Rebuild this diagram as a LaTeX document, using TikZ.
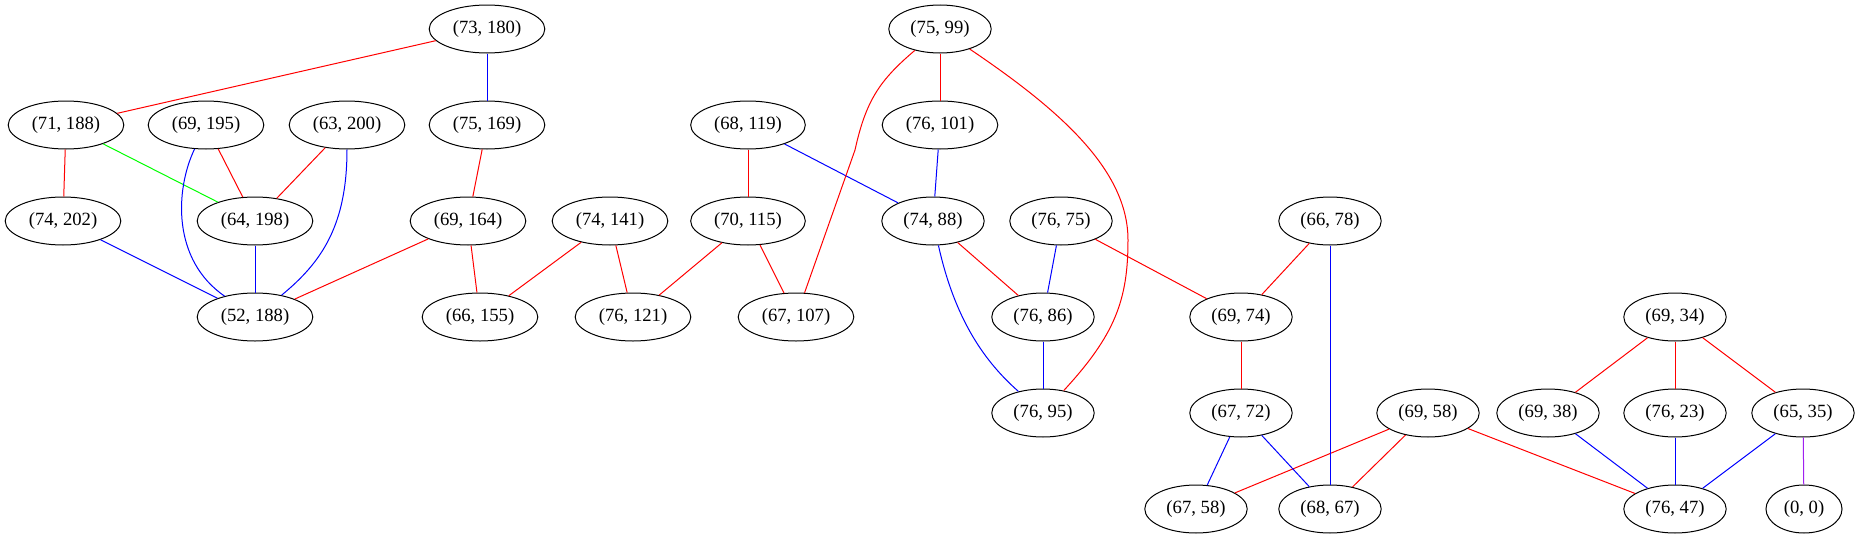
\documentclass[tikz,border=0pt]{standalone}
\usepackage{fontspec}
\setmainfont{Liberation Serif}
\usetikzlibrary{shapes}
\definecolor{gvpurple}{HTML}{A020F0}
\definecolor{gvgreen}{HTML}{00FF00}

\begin{document}
\begin{tikzpicture}[x=0.75pt, y=-0.75pt,
  every node/.style = {shape=ellipse, draw, line width=0.75pt,
    minimum height=36pt, minimum width=54pt, inner xsep=5pt,
    font=\fontsize{14}{16}\selectfont},
  edge/.style = {line width=0.75pt}]
  \useasboundingbox (0,0) rectangle (1861,539);
  % left group
  \node (n73x180) at (487,29) {(73, 180)};
  \node (n71x188) at (66,125) {(71, 188)};
  \node (n69x195) at (206,125) {(69, 195)};
  \node (n63x200) at (347,125) {(63, 200)};
  \node (n75x169) at (487,125) {(75, 169)};
  \node (n74x202) at (63,221) {(74, 202)};
  \node (n64x198) at (255,221) {(64, 198)};
  \node (n69x164) at (468,221) {(69, 164)};
  \node (n74x141) at (610,221) {(74, 141)};
  \node (n52x188) at (255,317) {(52, 188)};
  \node (n66x155) at (480,317) {(66, 155)};
  \node (n76x121) at (633,317) {(76, 121)};
  % middle group
  \node (n75x99) at (940,29) {(75, 99)};
  \node (n68x119) at (748,125) {(68, 119)};
  \node (n76x101) at (940,125) {(76, 101)};
  \node (n70x115) at (748,221) {(70, 115)};
  \node (n74x88) at (933,221) {(74, 88)};
  \node (n76x75) at (1061,221) {(76, 75)};
  \node (n67x107) at (796,317) {(67, 107)};
  \node (n76x86) at (1043,317) {(76, 86)};
  \node (n76x95) at (1043,413) {(76, 95)};
  % right group
  \node (n66x78) at (1330,221) {(66, 78)};
  \node (n69x74) at (1241,317) {(69, 74)};
  \node (n67x72) at (1241,413) {(67, 72)};
  \node (n69x58) at (1428,413) {(69, 58)};
  \node (n67x58) at (1196,509) {(67, 58)};
  \node (n68x67) at (1330,509) {(68, 67)};
  \node (n69x34) at (1675,317) {(69, 34)};
  \node (n69x38) at (1548,413) {(69, 38)};
  \node (n76x23) at (1675,413) {(76, 23)};
  \node (n65x35) at (1803,413) {(65, 35)};
  \node (n76x47) at (1675,509) {(76, 47)};
  \node (n0x0) at (1804,509) {(0, 0)};

  % straight edges
  \foreach \a/\b in {n73x180/n71x188, n71x188/n74x202, n69x195/n64x198,
      n63x200/n64x198, n75x169/n69x164, n69x164/n52x188, n69x164/n66x155,
      n74x141/n66x155, n74x141/n76x121, n70x115/n76x121, n70x115/n67x107,
      n68x119/n70x115, n75x99/n76x101, n74x88/n76x86, n76x75/n69x74,
      n66x78/n69x74, n69x74/n67x72, n69x58/n67x58, n69x58/n68x67,
      n69x58/n76x47, n69x34/n69x38, n69x34/n76x23, n69x34/n65x35}
    \draw[edge, red] (\a) -- (\b);
  \foreach \a/\b in {n73x180/n75x169, n74x202/n52x188, n64x198/n52x188,
      n68x119/n74x88, n76x101/n74x88, n76x75/n76x86, n76x86/n76x95,
      n66x78/n68x67, n67x72/n67x58, n67x72/n68x67, n69x38/n76x47,
      n76x23/n76x47, n65x35/n76x47}
    \draw[edge, blue] (\a) -- (\b);
  \draw[edge, gvgreen] (n71x188) -- (n64x198);
  \draw[edge, gvpurple] (n65x35) -- (n0x0);

  % curved edges
  \draw[edge, blue] (n69x195) .. controls (175,190) and (172,260) .. (n52x188);
  \draw[edge, blue] (n63x200) .. controls (347,225) and (322,262) .. (n52x188);
  \draw[edge, blue] (n74x88) .. controls (955,320) and (985,362) .. (n76x95);
  \draw[edge, red] (n75x99) .. controls (880,80) and (866,100) .. (855,150)
    -- (n67x107);
  \draw[edge, red] (n75x99) .. controls (1060,110) and (1128,170) .. (1128,240)
    .. controls (1128,300) and (1115,335) .. (n76x95);
\end{tikzpicture}
\end{document}
